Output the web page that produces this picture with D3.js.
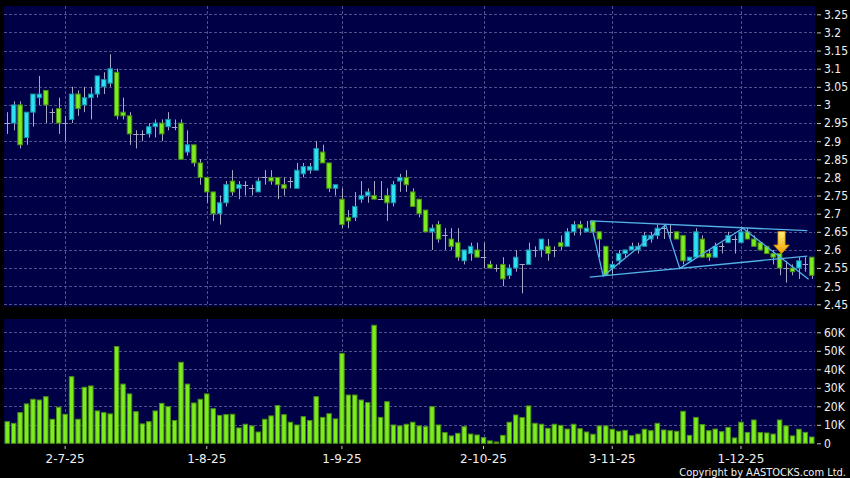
<!DOCTYPE html>
<html>
<head>
<meta charset="utf-8">
<script src="https://cdn.jsdelivr.net/npm/d3@7/dist/d3.min.js"></script>
<style>
body { margin: 0; background: #000; }
svg { display: block; }
.axis text { fill: #f0f0f0; font-family: "DejaVu Sans Condensed", "DejaVu Sans", sans-serif; font-size: 12px; }
.axis line { stroke: #c8c8c8; }
.date-axis text { font-family: "DejaVu Sans", sans-serif; }
.grid { stroke: #50508a; stroke-width: 1; stroke-dasharray: 3,2; }
</style>
</head>
<body>
<div id="vis_container"></div>
<script>
// trading days (d-m-yy)
var dates = [
 "18-6-25","19-6-25","20-6-25","23-6-25","24-6-25","25-6-25","26-6-25","27-6-25","30-6-25",
 "2-7-25","3-7-25","4-7-25","7-7-25","8-7-25","9-7-25","10-7-25","11-7-25","14-7-25","15-7-25","16-7-25","17-7-25","18-7-25",
 "21-7-25","22-7-25","23-7-25","24-7-25","25-7-25","28-7-25","29-7-25","30-7-25","31-7-25",
 "1-8-25","4-8-25","5-8-25","6-8-25","7-8-25","8-8-25","11-8-25","12-8-25","13-8-25","14-8-25","15-8-25",
 "18-8-25","19-8-25","20-8-25","21-8-25","22-8-25","25-8-25","26-8-25","27-8-25","28-8-25","29-8-25",
 "1-9-25","2-9-25","3-9-25","4-9-25","5-9-25","8-9-25","9-9-25","10-9-25","11-9-25","12-9-25","15-9-25",
 "16-9-25","17-9-25","18-9-25","19-9-25","22-9-25","23-9-25","24-9-25","25-9-25","26-9-25","29-9-25","30-9-25",
 "2-10-25","3-10-25","6-10-25","8-10-25","9-10-25","10-10-25","13-10-25","14-10-25","15-10-25","16-10-25","17-10-25",
 "20-10-25","21-10-25","22-10-25","23-10-25","24-10-25","27-10-25","28-10-25","30-10-25","31-10-25",
 "3-11-25","4-11-25","5-11-25","6-11-25","7-11-25","10-11-25","11-11-25","12-11-25","13-11-25","14-11-25",
 "17-11-25","18-11-25","19-11-25","20-11-25","21-11-25","24-11-25","25-11-25","26-11-25","27-11-25","28-11-25",
 "1-12-25","2-12-25","3-12-25","4-12-25","5-12-25","8-12-25","9-12-25","10-12-25","11-12-25","12-12-25","15-12-25","16-12-25"
];

var open = [
 2.95,2.95,3.00,2.91,2.98,3.02,3.04,2.98,2.99,2.95, 2.96,3.03,3.00,3.02,3.03,3.05,3.06,3.09,2.98,2.97,
 2.92,2.92,2.92,2.94,2.95,2.94,2.94,2.95,2.87,2.89, 2.84,2.80,2.76,2.70,2.73,2.79,2.77,2.78,2.77,2.76,
 2.80,2.80,2.80,2.78,2.79,2.77,2.81,2.82,2.82,2.87, 2.84,2.77,2.74,2.69,2.69,2.74,2.75,2.75,2.74,2.75,
 2.73,2.79,2.80,2.76,2.74,2.71,2.65,2.67,2.64,2.63, 2.62,2.57,2.59,2.60,2.58,2.56,2.55,2.56,2.53,2.55,
 2.56,2.56,2.60,2.60,2.61,2.60,2.62,2.61,2.65,2.67, 2.65,2.68,2.65,2.61,2.55,2.57,2.59,2.60,2.60,2.61,
 2.63,2.64,2.66,2.65,2.65,2.64,2.57,2.58,2.63,2.59, 2.58,2.61,2.62,2.63,2.62,2.65,2.63,2.62,2.61,2.59,
 2.59,2.55,2.55,2.55,2.56,2.58
];
var high = [
 2.98,3.01,3.01,2.98,3.03,3.08,3.04,2.99,3.02,2.97, 3.05,3.04,3.05,3.05,3.08,3.09,3.14,3.10,3.02,2.98,
 2.93,2.93,2.95,2.96,2.96,2.98,2.96,2.96,2.93,2.89, 2.85,2.80,2.76,2.75,2.79,2.82,2.79,2.79,2.78,2.80,
 2.82,2.82,2.80,2.80,2.80,2.84,2.84,2.84,2.90,2.89, 2.84,2.78,2.77,2.71,2.76,2.79,2.77,2.79,2.79,2.77,
 2.79,2.81,2.82,2.77,2.74,2.71,2.67,2.68,2.66,2.66, 2.66,2.60,2.62,2.62,2.62,2.57,2.56,2.58,2.56,2.60,
 2.56,2.62,2.61,2.63,2.63,2.61,2.64,2.66,2.68,2.68, 2.68,2.68,2.65,2.61,2.57,2.60,2.60,2.62,2.62,2.65,
 2.65,2.67,2.67,2.67,2.65,2.64,2.58,2.66,2.64,2.60, 2.62,2.62,2.65,2.64,2.66,2.66,2.64,2.62,2.61,2.60,
 2.59,2.57,2.56,2.58,2.58,2.58
];
var low = [
 2.92,2.93,2.88,2.89,2.94,3.00,2.95,2.95,2.92,2.90, 2.95,2.97,2.98,2.96,3.02,3.03,3.05,2.96,2.96,2.89,
 2.88,2.90,2.91,2.91,2.90,2.93,2.93,2.85,2.86,2.83, 2.78,2.73,2.68,2.67,2.72,2.75,2.74,2.75,2.75,2.76,
 2.78,2.78,2.74,2.75,2.77,2.77,2.80,2.81,2.82,2.84, 2.76,2.75,2.66,2.66,2.68,2.73,2.73,2.74,2.74,2.68,
 2.72,2.76,2.76,2.72,2.69,2.65,2.60,2.62,2.60,2.60, 2.57,2.56,2.57,2.58,2.55,2.55,2.54,2.50,2.52,2.54,
 2.48,2.56,2.58,2.58,2.57,2.58,2.60,2.61,2.64,2.64, 2.65,2.65,2.58,2.53,2.53,2.56,2.58,2.60,2.59,2.61,
 2.62,2.63,2.63,2.63,2.63,2.56,2.57,2.58,2.58,2.57, 2.58,2.59,2.62,2.59,2.62,2.63,2.61,2.60,2.59,2.56,
 2.53,2.51,2.53,2.52,2.54,2.52
];
var close = [
 2.95,3.00,2.89,2.98,3.03,3.03,3.00,2.98,2.95,2.95, 3.03,2.99,3.02,3.03,3.08,3.07,3.10,2.97,2.97,2.92,
 2.92,2.92,2.94,2.95,2.92,2.96,2.94,2.85,2.89,2.84, 2.80,2.76,2.70,2.73,2.78,2.76,2.78,2.78,2.77,2.79,
 2.80,2.79,2.78,2.77,2.79,2.82,2.83,2.83,2.88,2.84, 2.77,2.78,2.67,2.68,2.72,2.75,2.76,2.74,2.74,2.73,
 2.78,2.80,2.78,2.72,2.70,2.65,2.66,2.63,2.64,2.61, 2.58,2.60,2.61,2.58,2.58,2.55,2.55,2.52,2.55,2.58,
 2.56,2.60,2.60,2.63,2.59,2.60,2.61,2.65,2.67,2.66, 2.66,2.65,2.63,2.53,2.56,2.59,2.60,2.61,2.61,2.64,
 2.64,2.66,2.66,2.65,2.63,2.57,2.58,2.65,2.58,2.58, 2.61,2.61,2.64,2.63,2.65,2.63,2.61,2.60,2.59,2.58,
 2.55,2.55,2.54,2.57,2.56,2.53
];
// volume in thousands of shares
var volume = [
 11.7,10.8,16.6,21.3,23.8,23.4,25.2,13.0,19.5,15.7, 36.0,13.0,30.3,31.0,17.5,16.6,15.9,52.3,32.0,26.7,
 17.1,10.5,11.7,17.5,21.6,19.8,12.3,43.8,32.0,21.8, 23.8,26.7,18.7,15.1,15.5,15.7,8.3,10.3,9.4,6.1,
 13.0,14.8,20.4,15.5,11.4,9.9,14.4,12.3,25.2,14.0, 16.0,13.2,48.6,26.1,26.1,23.4,22.0,63.8,14.0,22.5,
 9.9,9.4,10.3,11.4,9.4,9.0,19.8,9.9,5.8,4.0, 5.4,9.0,5.0,4.5,3.1,1.3,0.7,4.3,11.4,15.3,
 13.9,20.2,10.8,10.3,8.1,10.3,9.7,7.7,10.3,7.9, 6.1,4.9,9.4,9.4,7.6,6.5,7.0,4.1,5.0,7.6,
 6.8,10.8,7.2,6.8,6.5,17.3,4.3,14.0,10.1,6.8, 7.7,6.3,8.6,2.9,11.4,5.9,12.6,5.8,5.6,5.0,
 12.6,9.4,4.0,7.6,5.9,3.4
];

var priceTicks = [2.45,2.5,2.55,2.6,2.65,2.7,2.75,2.8,2.85,2.9,2.95,3,3.05,3.1,3.15,3.2,3.25];
var volumeTicks = [0,10,20,30,40,50,60];
var dateTicks = ["2-7-25","1-8-25","1-9-25","2-10-25","3-11-25","1-12-25"];

// drawn trend lines: [bar index, price]
var upperLine = [[90.6,2.680],[124.3,2.653]];
var lowerLine = [[90.5,2.525],[124.3,2.583]];
var zigzag = [[90.6,2.680],[92.6,2.528],[102.3,2.669],[104.5,2.549],[114.3,2.660],[124.5,2.519]];
var arrowTip = [120.3,2.59];

var width = 850, height = 478;
var left = 4, right = 815;
var priceTop = 6, priceBottom = 306.5;
var volTop = 319, volBottom = 443.5;

var candles = dates.map(function(d, i) {
    return {date: d, o: open[i], h: high[i], l: low[i], c: close[i], v: volume[i]};
});

var x = d3.scaleBand()
    .domain(dates)
    .range([left, right])
    .paddingInner(0.15)
    .paddingOuter(0.075);
var xi = d3.scaleLinear()
    .domain([-0.5, dates.length - 0.5])
    .range([left, right]);
var y = d3.scaleLinear()
    .domain([2.45, 3.25])
    .range([304.3, 14.3]);
var yv = d3.scaleLinear()
    .domain([0, 60])
    .range([443.3, 332.3]);

var green = "#7cec1e", greenEdge = "#4a8f16";
var cyan = "#2de0f2", cyanEdge = "#1890a6";
var bw = x.bandwidth();

function mid(d) { return Math.round(x(d) + bw / 2) + 0.5; }

var svg = d3.select("#vis_container")
    .append("svg")
    .attr("width", width)
    .attr("height", height);

svg.append("rect").attr("width", width).attr("height", height).attr("fill", "#000");

// panels
svg.append("rect")
    .attr("x", left).attr("y", priceTop)
    .attr("width", right - left).attr("height", priceBottom - priceTop)
    .attr("fill", "#000046");
svg.append("rect")
    .attr("x", left).attr("y", volTop)
    .attr("width", right - left).attr("height", volBottom - volTop)
    .attr("fill", "#000046");

// grid
svg.append("g").selectAll("line").data(priceTicks).enter().append("line")
    .attr("class", "grid")
    .attr("x1", left).attr("x2", right)
    .attr("y1", function(d) { return Math.round(y(d)) + 0.5; })
    .attr("y2", function(d) { return Math.round(y(d)) + 0.5; });
svg.append("g").selectAll("line").data(volumeTicks.slice(1)).enter().append("line")
    .attr("class", "grid")
    .attr("x1", left).attr("x2", right)
    .attr("y1", function(d) { return Math.round(yv(d)) + 0.5; })
    .attr("y2", function(d) { return Math.round(yv(d)) + 0.5; });
dateTicks.forEach(function(t) {
    [[priceTop, priceBottom], [volTop, volBottom]].forEach(function(p) {
        svg.append("line")
            .attr("class", "grid")
            .attr("x1", mid(t)).attr("x2", mid(t))
            .attr("y1", p[0]).attr("y2", p[1]);
    });
});

// candles
var cg = svg.append("g");
cg.selectAll(".wick").data(candles).enter().append("line")
    .attr("class", "wick")
    .attr("x1", function(d) { return mid(d.date); })
    .attr("x2", function(d) { return mid(d.date); })
    .attr("y1", function(d) { return y(d.h); })
    .attr("y2", function(d) { return y(d.l); })
    .style("stroke", "#a8a8c4")
    .style("stroke-width", 1);

cg.selectAll(".body").data(candles.filter(function(d) { return d.o != d.c; })).enter().append("rect")
    .attr("class", "body")
    .attr("x", function(d) { return x(d.date) + 0.5; })
    .attr("width", bw - 1)
    .attr("y", function(d) { return y(Math.max(d.o, d.c)); })
    .attr("height", function(d) { return Math.abs(y(d.o) - y(d.c)); })
    .style("fill", function(d) { return d.c > d.o ? cyan : green; })
    .style("stroke", function(d) { return d.c > d.o ? cyanEdge : greenEdge; })
    .style("stroke-width", 1);

cg.selectAll(".doji").data(candles.filter(function(d) { return d.o == d.c; })).enter().append("line")
    .attr("class", "doji")
    .attr("x1", function(d) { return x(d.date); })
    .attr("x2", function(d) { return x(d.date) + bw; })
    .attr("y1", function(d) { return Math.round(y(d.c)) + 0.5; })
    .attr("y2", function(d) { return Math.round(y(d.c)) + 0.5; })
    .style("stroke", "#a8a8c4")
    .style("stroke-width", 1);

// trend lines
var line = d3.line()
    .x(function(d) { return xi(d[0]); })
    .y(function(d) { return y(d[1]); });
[upperLine, lowerLine, zigzag].forEach(function(pts) {
    svg.append("path")
        .attr("d", line(pts))
        .attr("fill", "none")
        .attr("stroke", "#52b2e8")
        .attr("stroke-width", 1.3);
});

// arrow
var defs = svg.append("defs");
var grad = defs.append("linearGradient").attr("id", "arrowFill")
    .attr("x1", 0).attr("y1", 0).attr("x2", 0).attr("y2", 1);
grad.append("stop").attr("offset", "0%").attr("stop-color", "#fff27a");
grad.append("stop").attr("offset", "100%").attr("stop-color", "#f2a000");
var tx = xi(arrowTip[0]), ty = y(arrowTip[1]);
svg.append("path")
    .attr("d", "M" + (tx - 3.6) + "," + (ty - 22) + "H" + (tx + 3.6) + "V" + (ty - 8.5) +
        "H" + (tx + 7.8) + "L" + tx + "," + ty + "L" + (tx - 7.8) + "," + (ty - 8.5) +
        "H" + (tx - 3.6) + "Z")
    .attr("fill", "url(#arrowFill)")
    .attr("stroke", "#d08a00")
    .attr("stroke-width", 0.8);

// volume bars
svg.append("g").selectAll("rect").data(candles).enter().append("rect")
    .attr("x", function(d) { return x(d.date) + 0.5; })
    .attr("width", bw - 1)
    .attr("y", function(d) { return yv(d.v); })
    .attr("height", function(d) { return yv(0) - yv(d.v); })
    .style("fill", green)
    .style("stroke", greenEdge)
    .style("stroke-width", 1);

// axes
var pAxis = svg.append("g")
    .attr("class", "axis")
    .attr("transform", "translate(817,0)")
    .call(d3.axisRight(y).tickValues(priceTicks).tickSize(4).tickPadding(3)
        .tickFormat(function(d) { return +d.toFixed(2) + ""; }));
pAxis.select(".domain").remove();

var vAxis = svg.append("g")
    .attr("class", "axis")
    .attr("transform", "translate(817,0)")
    .call(d3.axisRight(yv).tickValues(volumeTicks).tickSize(4).tickPadding(3)
        .tickFormat(function(d) { return d == 0 ? "0" : d + "K"; }));
vAxis.select(".domain").remove();

var dAxis = svg.append("g")
    .attr("class", "axis date-axis")
    .attr("transform", "translate(0,446)")
    .call(d3.axisBottom(x).tickValues(dateTicks).tickSize(3).tickPadding(5));
dAxis.select(".domain").remove();

svg.append("text")
    .attr("x", 846)
    .attr("y", 475.5)
    .style("text-anchor", "end")
    .style("fill", "#f0f0f0")
    .style("font-family", "'DejaVu Sans Condensed', 'DejaVu Sans', sans-serif")
    .style("font-size", "11px")
    .text("Copyright by AASTOCKS.com Ltd.");
</script>
</body>
</html>
